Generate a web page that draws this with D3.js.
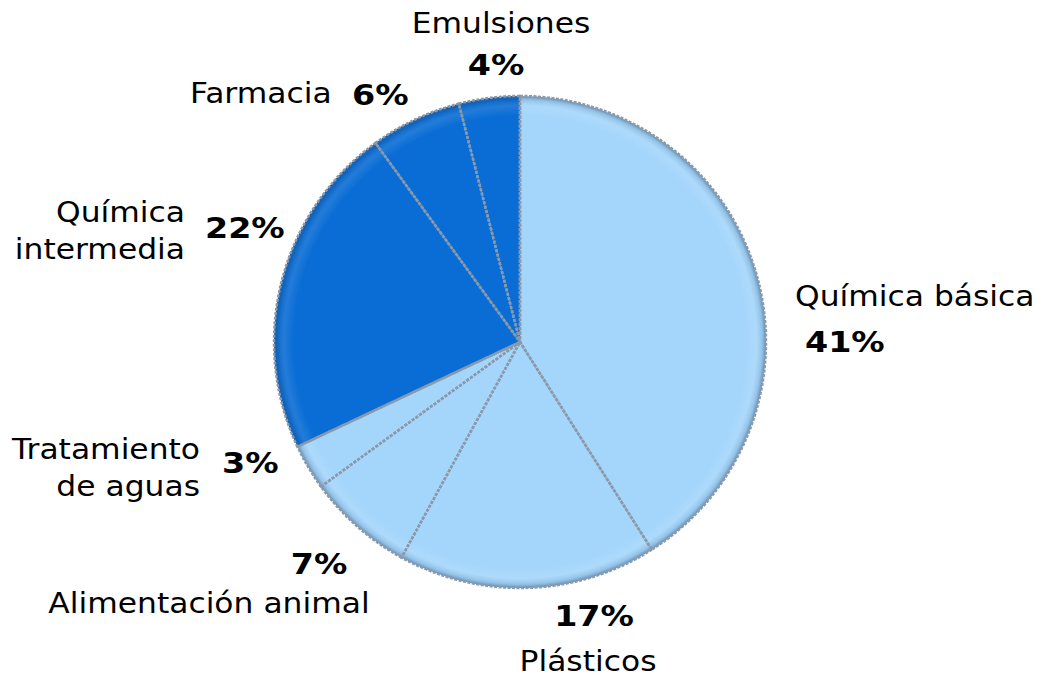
<!DOCTYPE html>
<html>
<head>
<meta charset="utf-8">
<script src="https://cdn.jsdelivr.net/npm/d3@7"></script>
<style>
  body { margin: 0; background: #fff; }
  text { font-family: "DejaVu Sans", Verdana, sans-serif; font-size: 28px; fill: #000; }
  .pct { font-weight: bold; }
</style>
</head>
<body>
<div id="chart"></div>
<script>
// Data (clockwise from 12 o'clock)
const categories = ['Química básica', 'Plásticos', 'Alimentación animal', 'Tratamiento de aguas',
  'Química intermedia', 'Farmacia', 'Emulsiones'];
const values = [41, 17, 7, 3, 22, 6, 4];
const groups = ['light', 'light', 'light', 'light', 'dark', 'dark', 'dark'];

const width = 1041;
const height = 678;
const cx = 520;
const cy = 342;
const radius = 246;

const svg = d3.select('#chart').append('svg')
  .attr('width', width)
  .attr('height', height);

const color = d3.scaleOrdinal()
  .domain(['light', 'dark'])
  .range(['#a4d6fb', '#0a6dd5']);

// subtle bevel look on the rim
const defs = svg.append('defs');
const bevel = defs.append('radialGradient')
  .attr('id', 'bevel')
  .attr('gradientUnits', 'userSpaceOnUse')
  .attr('cx', 0).attr('cy', 0).attr('r', radius);
bevel.append('stop').attr('offset', '0.92').attr('stop-color', '#fff').attr('stop-opacity', 0);
bevel.append('stop').attr('offset', '0.96').attr('stop-color', '#fff').attr('stop-opacity', 0.1);
bevel.append('stop').attr('offset', '0.985').attr('stop-color', '#2a4a6a').attr('stop-opacity', 0.15);
bevel.append('stop').attr('offset', '1').attr('stop-color', '#2a4a6a').attr('stop-opacity', 0.5);

const pie = d3.pie().sort(null).value(d => d);
const arcs = pie(values);
const arc = d3.arc().innerRadius(0).outerRadius(radius);

const g = svg.append('g').attr('transform', `translate(${cx},${cy})`);

g.selectAll('path.slice')
  .data(arcs)
  .enter()
  .append('path')
  .attr('class', 'slice')
  .attr('d', arc)
  .attr('fill', (d, i) => color(groups[i]));

g.selectAll('path.shade')
  .data(arcs)
  .enter()
  .append('path')
  .attr('class', 'shade')
  .attr('d', arc)
  .attr('fill', 'url(#bevel)');

// dashed gray borders between slices
g.selectAll('path.edge')
  .data(arcs)
  .enter()
  .append('path')
  .attr('class', 'edge')
  .attr('d', arc)
  .attr('fill', 'none')
  .attr('stroke', '#8a99ab')
  .attr('stroke-width', 2.5)
  .attr('stroke-dasharray', '3,1.5');

// Labels: name lines, name position, anchor, percent position
const nameLines = [['Química básica'], ['Plásticos'], ['Alimentación animal'],
  ['Tratamiento', 'de aguas'], ['Química', 'intermedia'], ['Farmacia'], ['Emulsiones']];
const namePos = [[795, 306, 'start'], [588, 671, 'middle'], [209, 613, 'middle'],
  [200, 459, 'end'], [185, 222, 'end'], [190, 103, 'start'], [501, 33, 'middle']];
const pctPos = [[805, 352, 'start'], [594, 626, 'middle'], [319, 574, 'middle'],
  [222, 473, 'start'], [205, 238, 'start'], [352, 105, 'start'], [496, 75, 'middle']];

const labels = svg.append('g');

labels.selectAll('g.name')
  .data(arcs)
  .enter()
  .append('g')
  .attr('class', 'name')
  .attr('transform', (d, i) => `translate(${namePos[i][0]},${namePos[i][1]}) scale(1.12,1)`)
  .append('text')
  .attr('text-anchor', (d, i) => namePos[i][2])
  .each(function (d, i) {
    const t = d3.select(this);
    nameLines[i].forEach((line, j) => {
      t.append('tspan')
        .attr('x', 0)
        .attr('dy', j === 0 ? 0 : 37)
        .text(line);
    });
  });

labels.selectAll('g.pct')
  .data(arcs)
  .enter()
  .append('g')
  .attr('transform', (d, i) => `translate(${pctPos[i][0]},${pctPos[i][1]}) scale(1.19,1)`)
  .append('text')
  .attr('class', 'pct')
  .attr('text-anchor', (d, i) => pctPos[i][2])
  .text(d => d.data + '%');
</script>
</body>
</html>
